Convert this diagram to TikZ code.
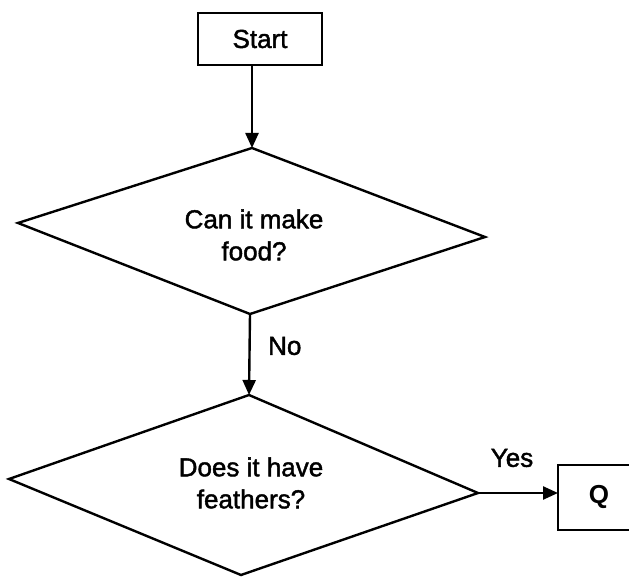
\documentclass[tikz,border=0pt]{standalone}
\usepackage{fontspec}
\setmainfont{Liberation Sans}
\newfontfamily\scanfont[FakeBold=1.6]{Liberation Sans}
\usetikzlibrary{arrows.meta}
\begin{document}
\begin{tikzpicture}[x=1pt,y=-1pt,
  lbl/.style={font=\scanfont\fontsize{26}{32}\selectfont, inner sep=0pt, align=center},
  boxed/.style={draw, line width=2.4pt, inner sep=0pt},
  arr/.style={-{Triangle[length=15pt,width=13pt]}, line width=2.4pt},
  outline/.style={line width=2.4pt, line join=miter}]
\useasboundingbox (0,0) rectangle (629,577);
\clip (0,0) rectangle (629,577);
% Start box
\node[boxed, lbl, minimum width=124pt, minimum height=52pt] (start) at (260,39) {Start};
% first decision
\coordinate (d1t) at (252,148);
\coordinate (d1r) at (485,237);
\coordinate (d1b) at (250,314);
\coordinate (d1l) at (18,223);
\draw[outline] (d1t) -- (d1r) -- (d1b) -- (d1l) -- cycle;
\node[lbl] (q1) at (254,235) {Can it make\\food?};
% second decision
\coordinate (d2t) at (249,395);
\coordinate (d2r) at (478,493);
\coordinate (d2b) at (241,575);
\coordinate (d2l) at (9,479);
\draw[outline] (d2t) -- (d2r) -- (d2b) -- (d2l) -- cycle;
\node[lbl] (q2) at (251,483) {Does it have\\feathers?};
% Q box (open past the right edge of the picture)
\node[lbl, font=\fontsize{26}{32}\selectfont\bfseries] (q) at (599,497) {Q};
\coordinate (qin) at (558,493);
\draw[outline] (660,465) -- (558,465) -- (558,530) -- (660,530);
% connectors
\draw[arr] (start.south -| d1t) -- (d1t);
\draw[arr] (d1b) -- (d2t);
\draw[arr] (d2r) -- (qin);
% labels
\node[lbl, anchor=west] (no) at (268,346) {No};
\node[lbl] (yes) at (512,458) {Yes};
\end{tikzpicture}
\end{document}
